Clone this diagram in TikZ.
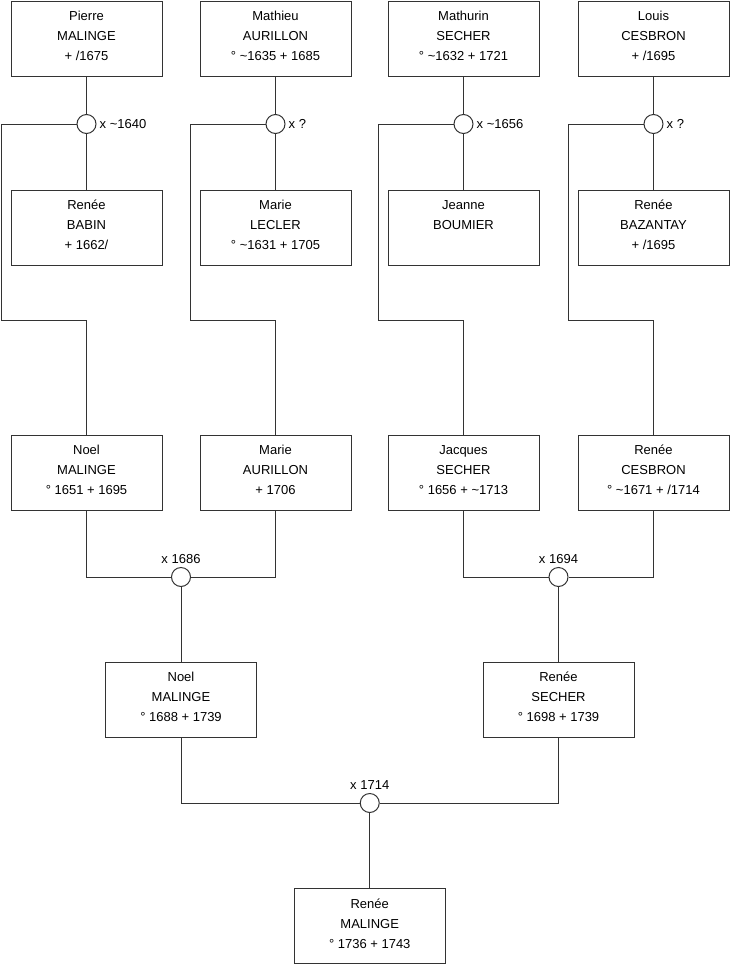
\documentclass[tikz,border=0pt]{standalone}
\usepackage{fontspec}
\setmainfont{Liberation Sans}
\usetikzlibrary{positioning,calc}
\definecolor{ink}{HTML}{333333}
\newcommand{\who}[3]{\strut#1\\\strut#2\\\strut#3\rule[-10pt]{0pt}{1pt}}

\begin{document}
\begin{tikzpicture}[
  x=1pt,y=-1pt,
  every node/.style={font=\fontsize{13}{20}\selectfont,text=black},
  person/.style={draw=ink,line width=1pt,fill=white,align=center,
    minimum width=151pt,minimum height=75pt,inner sep=0pt},
  wed/.style={draw=ink,line width=1pt,fill=white,circle,minimum size=19pt,inner sep=0pt},
  link/.style={draw=ink,line width=1pt},
  year/.style={inner sep=3pt}
]
\useasboundingbox (0,0) rectangle (740,975);
% grand-parents
\node[person] (pierre) at (86.5,38.5) {\who{Pierre}{MALINGE}{+ /1675}};
\node[person] (mathieu) at (275.5,38.5) {\who{Mathieu}{AURILLON}{° \textasciitilde1635 + 1685}};
\node[person] (mathurin) at (463.5,38.5) {\who{Mathurin}{SECHER}{° \textasciitilde1632 + 1721}};
\node[person] (louis) at (653.5,38.5) {\who{Louis}{CESBRON}{+ /1695}};
\node[person] (babin) at (86.5,227.5) {\who{Renée}{BABIN}{+ 1662/}};
\node[person] (lecler) at (275.5,227.5) {\who{Marie}{LECLER}{° \textasciitilde1631 + 1705}};
\node[person] (boumier) at (463.5,227.5) {\who{Jeanne}{BOUMIER}{}};
\node[person] (bazantay) at (653.5,227.5) {\who{Renée}{BAZANTAY}{+ /1695}};
\node[wed] (w1) at (86.5,124) {};
\node[wed] (w2) at (275.5,124) {};
\node[wed] (w3) at (463.5,124) {};
\node[wed] (w4) at (653.5,124) {};
\node[year,right=0pt of w1] {x \textasciitilde1640};
\node[year,right=0pt of w2] {x ?};
\node[year,right=0pt of w3] {x \textasciitilde1656};
\node[year,right=0pt of w4] {x ?};
% parents
\node[person] (noel) at (86.5,472.5) {\who{Noel}{MALINGE}{° 1651 + 1695}};
\node[person] (marie) at (275.5,472.5) {\who{Marie}{AURILLON}{+ 1706}};
\node[person] (jacques) at (463.5,472.5) {\who{Jacques}{SECHER}{° 1656 + \textasciitilde1713}};
\node[person] (cesbron) at (653.5,472.5) {\who{Renée}{CESBRON}{° \textasciitilde1671 + /1714}};
\node[wed] (w5) at (181,577) {};
\node[wed] (w6) at (558.5,577) {};
\node[year,above=0pt of w5] {x 1686};
\node[year,above=0pt of w6] {x 1694};
\node[person] (noeljr) at (181,699.5) {\who{Noel}{MALINGE}{° 1688 + 1739}};
\node[person] (secher) at (558.5,699.5) {\who{Renée}{SECHER}{° 1698 + 1739}};
\node[wed] (w7) at (369.75,803) {};
\node[year,above=0pt of w7] {x 1714};
\node[person] (malinge) at (369.75,926) {\who{Renée}{MALINGE}{° 1736 + 1743}};

\foreach \up/\w/\down/\kid in {pierre/w1/babin/noel,mathieu/w2/lecler/marie,
  mathurin/w3/boumier/jacques,louis/w4/bazantay/cesbron}{
  \draw[link] (\up) -- (\w) -- (\down);
  \draw[link] (\w.west) -- ([xshift=-75pt]\w.west) |- ([yshift=114pt]\kid.north) -- (\kid.north);
}
\draw[link] (noel.south) |- (w5.west);
\draw[link] (marie.south) |- (w5.east);
\draw[link] (w5) -- (noeljr);
\draw[link] (jacques.south) |- (w6.west);
\draw[link] (cesbron.south) |- (w6.east);
\draw[link] (w6) -- (secher);
\draw[link] (noeljr.south) |- (w7.west);
\draw[link] (secher.south) |- (w7.east);
\draw[link] (w7) -- (malinge);
\end{tikzpicture}
\end{document}
